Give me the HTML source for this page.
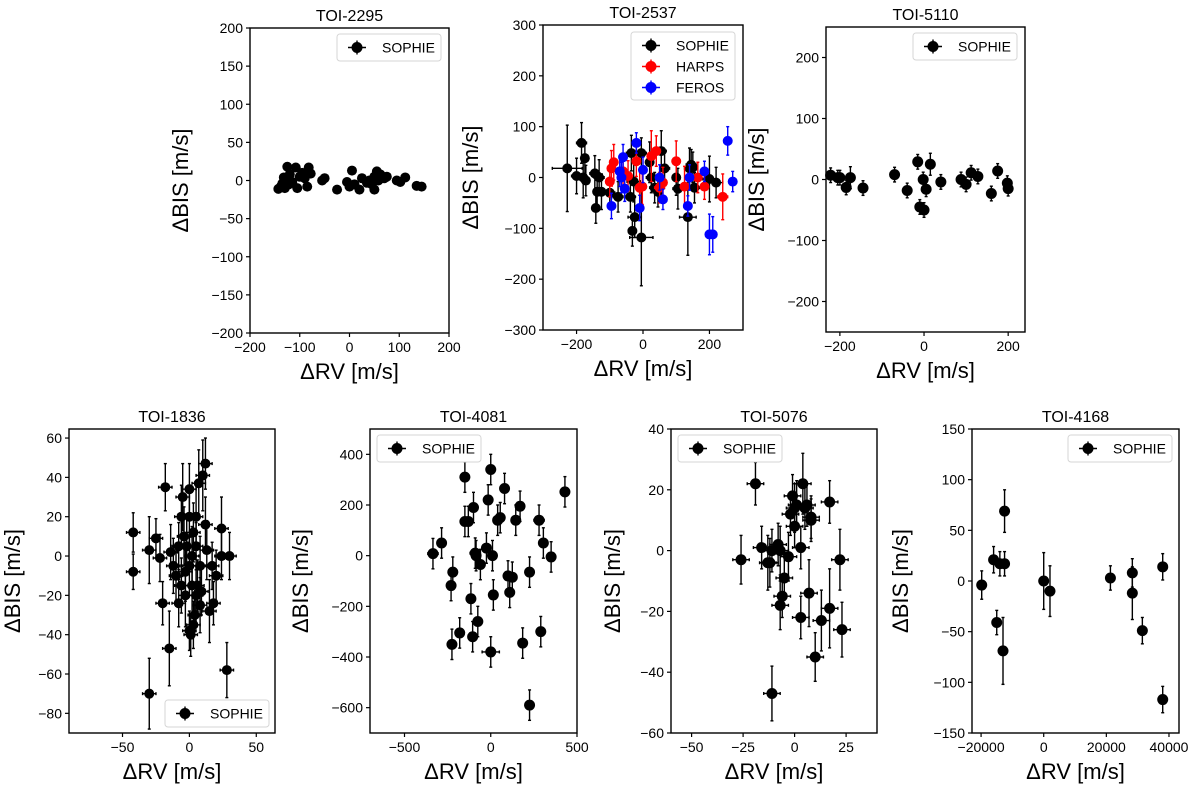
<!DOCTYPE html>
<html><head><meta charset="utf-8">
<style>
html,body{margin:0;padding:0;background:#fff;}
svg{display:block;font-family:"Liberation Sans","DejaVu Sans",sans-serif;}
</style></head>
<body>
<svg id="fig" width="1200" height="786" viewBox="0 0 1200 786" xmlns="http://www.w3.org/2000/svg"></svg>
<script>
// ---- data arrays ----
const p1X=[-143,-138,-135,-132,-130,-128,-125,-122,-120,-115,-108,-105,-100,-95,-90,-85,-82,-78,-55,-50,-25,-5,0,5,10,20,25,35,40,45,50,50,55,58,62,70,75,95,102,112,135,145];
const p1Y=[-11,-8,-4,4,-10,0,18,-5,8,-2,17,-10,5,10,3,-8,17,9,0,3,-12,-2,-8,13,-5,-12,3,-3,0,-5,5,-12,12,0,8,3,5,0,-2,4,-7,-8];

const p2sX=[-228,-200,-185,-180,-175,-172,-145,-142,-138,-132,-125,-100,-75,-38,-35,-32,-28,-25,-5,-5,20,25,35,45,55,65,100,105,135,140,145,150,155,200,220];
const p2sY=[18,3,68,0,38,-6,8,-60,-28,0,-28,-30,-38,-38,48,-105,-8,-78,-118,48,30,0,-20,-28,52,18,0,-22,-78,18,25,20,-20,-3,-10];
const p2sXe=[45,15,15,10,10,10,15,10,10,15,15,15,15,15,15,12,20,20,35,15,12,15,15,10,15,15,12,15,25,15,15,15,15,20,20];
const p2sYe=[85,35,40,40,30,30,35,30,30,35,35,30,30,30,35,30,40,40,95,30,40,30,30,30,40,30,35,40,75,40,30,30,30,45,30];
const p2hX=[-100,-95,-88,-60,-45,-20,-10,-2,25,40,50,60,100,125,165,185,240];
const p2hY=[-8,18,30,12,3,32,-20,-18,42,52,-20,-10,32,-18,0,-18,-38];
const p2hXe=[10,10,10,10,10,10,12,12,10,10,15,10,12,12,10,12,15];
const p2hYe=[30,35,35,30,30,30,35,35,50,30,30,30,40,40,30,25,45];
const p2fX=[-95,-70,-65,-60,-55,-20,-10,0,50,60,135,140,185,200,210,255,270];
const p2fY=[-56,12,0,40,-22,68,-60,15,0,-43,-56,0,12,-112,-112,72,-8];
const p2fXe=[10,10,10,10,10,10,10,10,12,10,10,10,10,10,10,10,10];
const p2fYe=[25,30,30,25,25,20,25,25,25,20,20,25,20,40,35,28,20];

const p3X=[-222,-205,-200,-185,-175,-145,-70,-40,-15,-10,-2,0,5,15,40,88,100,112,128,160,175,198,200];
const p3Y=[7,3,3,-13,3,-14,8,-18,29,-45,0,-50,-16,25,-4,0,-8,11,5,-23,14,-6,-15];
const p3Ye=[12,12,12,12,18,12,12,12,12,12,12,12,12,18,12,12,12,12,12,12,12,12,12];

const p4X=[-42,-42,-30,-30,-25,-22,-20,-18,-15,-12,-10,-8,-6,-5,-4,-3,-2,0,0,0,0,1,2,3,4,5,5,6,7,8,8,10,12,12,13,15,17,18,20,24,24,28,30,-8,-14,-3,2,5,9,-6,3];
const p4Y=[12,-8,3,-70,9,-1,-24,35,-47,-5,-10,-24,20,30,10,-20,5,34,20,-5,-38,-40,-15,-35,-30,-20,20,-15,37,-25,-5,41,47,16,3,-28,-5,-24,-10,14,0,-58,0,5,2,-8,0,5,-18,-15,12];
const p4Ye=[10,9,17,18,10,12,11,12,19,14,15,12,16,17,15,16,14,13,16,15,10,11,14,12,10,15,16,13,17,14,15,18,13,14,15,16,12,11,13,16,12,14,12,12,14,15,15,12,12,14,15];

const p5X=[-335,-285,-230,-220,-225,-180,-150,-150,-130,-115,-105,-100,-90,-85,-75,-60,-25,-15,0,0,10,15,40,55,80,100,110,125,145,170,185,225,225,280,290,305,350,430];
const p5Y=[8,50,-118,-65,-350,-305,310,135,135,-170,-320,190,10,0,-260,-35,30,220,340,-380,0,-155,140,150,265,-80,-145,-85,140,195,-345,-65,-590,140,-300,50,-5,252];
const p5Xe=[30,25,20,25,20,20,20,25,25,20,20,20,30,20,20,20,20,20,20,50,20,25,20,20,20,20,20,20,20,20,20,20,20,30,20,20,20,20];

const p6X=[-26,-19,-16,-13,-12,-11,-11,-8,-7,-7,-6,-5,-3,-2,-1,0,0,1,3,3,4,5,6,7,8,8,10,13,17,17,22,23];
const p6Y=[-3,22,1,-4,-4,0,-47,2,0,-18,-15,-9,-2,12,18,8,14,15,1,-22,22,14,15,-14,10,11,-35,-23,16,-19,-3,-26];
const p6Ye=[8,7,7,9,8,7,9,7,8,8,7,7,8,7,7,7,8,8,7,7,10,7,7,11,7,7,8,10,7,13,10,9];

const p7X=[-19800,-16000,-15000,-14000,-13000,-12500,-12500,0,2000,21300,28300,28300,31500,38000,38000];
const p7Y=[-4,21,-41,17,-69,17,69,0,-10,3,8,-12,-49,14,-117];
const p7Ye=[14,13,12,12,33,12,21,28,25,12,14,26,13,13,13];

const p1Ticks={x:[-200,-100,0,100,200],y:[-200,-150,-100,-50,0,50,100,150,200]};
const p2Ticks={x:[-200,0,200],y:[-300,-200,-100,0,100,200,300]};
const p3Ticks={x:[-200,0,200],y:[-200,-100,0,100,200]};
const p4Ticks={x:[-50,0,50],y:[-80,-60,-40,-20,0,20,40,60]};
const p5Ticks={x:[-500,0,500],y:[-600,-400,-200,0,200,400]};
const p6Ticks={x:[-50,-25,0,25],y:[-60,-40,-20,0,20,40]};
const p7Ticks={x:[-20000,0,20000,40000],y:[-150,-100,-50,0,50,100,150]};

const NS="http://www.w3.org/2000/svg";
const fig=document.getElementById('fig');
function mk(tag,attrs,parent){const e=document.createElementNS(NS,tag);for(const k in attrs)e.setAttribute(k,attrs[k]);(parent||fig).appendChild(e);return e;}
function fmt(v){return v<0?'\u2212'+Math.abs(v):String(v);}

function panel(o){
  const g=mk('g',{});
  
  
  const sx=v=>o.L+(v-o.xr[0])/(o.xr[1]-o.xr[0])*(o.R-o.L);
  const sy=v=>o.B-(v-o.yr[0])/(o.yr[1]-o.yr[0])*(o.B-o.T);
  o.series.forEach(s=>{
    const sg=mk('g',{},g);
    
    
    for(let i=0;i<s.x.length;i++){
      const px=sx(s.x[i]),py=sy(s.y[i]);
      const xe=s.xe?(Array.isArray(s.xe)?s.xe[i]:s.xe):0;
      const ye=s.ye?(Array.isArray(s.ye)?s.ye[i]:s.ye):0;
      if(ye){const y1=sy(s.y[i]+ye),y2=sy(s.y[i]-ye);
        mk('line',{x1:px,x2:px,y1:y1,y2:y2,stroke:s.c,'stroke-width':1.4},sg);
        mk('line',{x1:px-1.5,x2:px+1.5,y1:y1,y2:y1,stroke:s.c,'stroke-width':1.4},sg);
        mk('line',{x1:px-1.5,x2:px+1.5,y1:y2,y2:y2,stroke:s.c,'stroke-width':1.4},sg);}
      if(xe){const x1=sx(s.x[i]-xe),x2=sx(s.x[i]+xe);
        mk('line',{x1:x1,x2:x2,y1:py,y2:py,stroke:s.c,'stroke-width':1.4},sg);
        mk('line',{x1:x1,x2:x1,y1:py-1.5,y2:py+1.5,stroke:s.c,'stroke-width':1.4},sg);
        mk('line',{x1:x2,x2:x2,y1:py-1.5,y2:py+1.5,stroke:s.c,'stroke-width':1.4},sg);}
      const c=mk('circle',{cx:px,cy:py,r:o.r,fill:s.c},sg);
      
      
    }
  });
  const f=mk('rect',{x:o.L,y:o.T,width:o.R-o.L,height:o.B-o.T,fill:'none',stroke:'#000','stroke-width':1.4},g);
  
  
  o.ticks.x.forEach(v=>{const px=sx(v);
    mk('line',{x1:px,x2:px,y1:o.B,y2:o.B+4,stroke:'#000','stroke-width':1.2},g);
    const t=mk('text',{x:px,y:o.B+19,'text-anchor':'middle','font-size':14},g);t.textContent=fmt(v);
    
    });
  o.ticks.y.forEach(v=>{const py=sy(v);
    mk('line',{x1:o.L-4,x2:o.L,y1:py,y2:py,stroke:'#000','stroke-width':1.2},g);
    const t=mk('text',{x:o.L-7,y:py+5,'text-anchor':'end','font-size':14},g);t.textContent=fmt(v);
    
    });
  const tt=mk('text',{x:(o.L+o.R)/2,y:o.T-7,'text-anchor':'middle','font-size':16},g);tt.textContent=o.title;
  
  
  const xl=mk('text',{x:(o.L+o.R)/2,y:o.B+46,'text-anchor':'middle','font-size':22},g);xl.textContent='\u0394RV [m/s]';
  
  
  const yc=(o.T+o.B)/2;
  const yl=mk('text',{x:o.ylx,y:yc,'text-anchor':'middle','font-size':22,transform:`rotate(-90 ${o.ylx} ${yc})`},g);yl.textContent='\u0394BIS [m/s]';
  
  
  const lg=mk('g',{},g);
  
  
  const n=o.series.length,h=n===1?27:68;
  mk('rect',{x:o.lx,y:o.ly,width:104,height:h,rx:3,fill:'#fff',stroke:'#d6d6d6','stroke-width':1},lg);
  o.series.forEach((s,i)=>{const cy=o.ly+13.5+i*21,cx=o.lx+20;
    const e=mk('g',{},lg);
    
    
    mk('line',{x1:cx-9,x2:cx+9,y1:cy,y2:cy,stroke:s.c,'stroke-width':1.4},e);
    mk('line',{x1:cx,x2:cx,y1:cy-7,y2:cy+7,stroke:s.c,'stroke-width':1.4},e);
    mk('circle',{cx:cx,cy:cy,r:5.5,fill:s.c},e);
    const t=mk('text',{x:o.lx+45,y:cy+5,'font-size':14},e);t.textContent=s.label;});
}

panel({name:'panel-toi-2295',title:'TOI-2295',L:250,R:449,T:28,B:333,xr:[-200,200],yr:[-200,200],ticks:p1Ticks,ylx:188,r:5,lx:337,ly:34,
  series:[{name:'sophie-series',label:'SOPHIE',c:'#000',x:p1X,y:p1Y,ye:3}]});
panel({name:'panel-toi-2537',title:'TOI-2537',L:543,R:743,T:25,B:330,xr:[-301,301],yr:[-300,300],ticks:p2Ticks,ylx:478,r:5,lx:631,ly:32,
  series:[{name:'sophie-series',label:'SOPHIE',c:'#000',x:p2sX,y:p2sY,xe:p2sXe,ye:p2sYe},
          {name:'harps-series',label:'HARPS',c:'#ff0000',x:p2hX,y:p2hY,xe:p2hXe,ye:p2hYe},
          {name:'feros-series',label:'FEROS',c:'#0000ff',x:p2fX,y:p2fY,xe:p2fXe,ye:p2fYe}]});
panel({name:'panel-toi-5110',title:'TOI-5110',L:826,R:1025,T:27,B:332,xr:[-233,240],yr:[-250,250],ticks:p3Ticks,ylx:764,r:5.5,lx:913,ly:33,
  series:[{name:'sophie-series',label:'SOPHIE',c:'#000',x:p3X,y:p3Y,xe:5,ye:p3Ye}]});
panel({name:'panel-toi-1836',title:'TOI-1836',L:69,R:275,T:429,B:733,xr:[-90,64],yr:[-90,64.6],ticks:p4Ticks,ylx:20,r:5,lx:165,ly:700,
  series:[{name:'sophie-series',label:'SOPHIE',c:'#000',x:p4X,y:p4Y,xe:5,ye:p4Ye}]});
panel({name:'panel-toi-4081',title:'TOI-4081',L:370,R:577,T:429,B:733,xr:[-700,500],yr:[-700,500],ticks:p5Ticks,ylx:308,r:5.5,lx:377,ly:435,
  series:[{name:'sophie-series',label:'SOPHIE',c:'#000',x:p5X,y:p5Y,xe:p5Xe,ye:60}]});
panel({name:'panel-toi-5076',title:'TOI-5076',L:671,R:877,T:429,B:733,xr:[-60,40],yr:[-60,40],ticks:p6Ticks,ylx:620,r:5.5,lx:678,ly:435,
  series:[{name:'sophie-series',label:'SOPHIE',c:'#000',x:p6X,y:p6Y,xe:4,ye:p6Ye}]});
panel({name:'panel-toi-4168',title:'TOI-4168',L:972,R:1179,T:429,B:733,xr:[-22900,43200],yr:[-150,150],ticks:p7Ticks,ylx:908,r:5.5,lx:1068,ly:435,
  series:[{name:'sophie-series',label:'SOPHIE',c:'#000',x:p7X,y:p7Y,ye:p7Ye}]});
</script>
</body></html>
